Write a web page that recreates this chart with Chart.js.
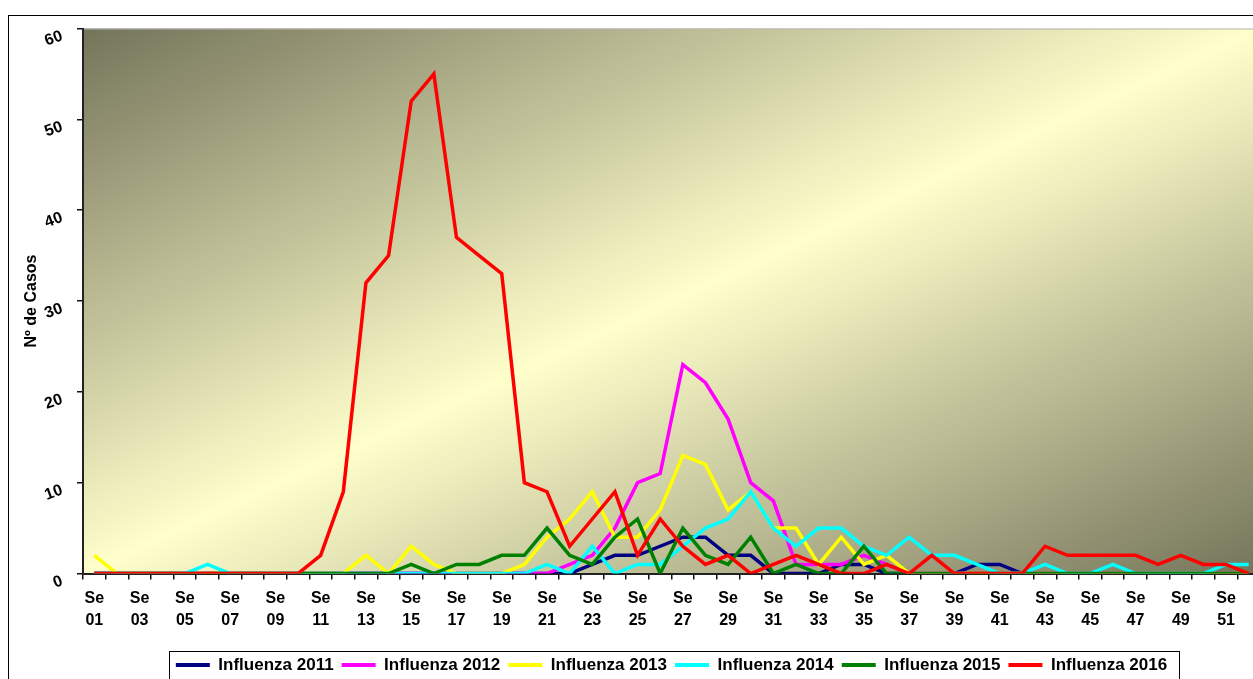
<!doctype html>
<html>
	<head>
		<meta charset="utf-8" />
		<title>Influenza</title>
		<style>
			html	{ height: 100%; overflow: hidden }
			body	{ height: 100%; margin: 0; padding: 0; background: #fff; overflow: hidden }
			canvas	{ display: block; }
		</style>
		<script src="https://cdn.jsdelivr.net/npm/chart.js@4.4.1/dist/chart.umd.min.js"></script>
	</head>
	<body>
		<!-- the plot runs a few pixels past the right edge of the window, as in the original -->
		<canvas id="canvas" width="1260" height="679"></canvas>
		<script>

			var weeks = ['Se 01','Se 02','Se 03','Se 04','Se 05','Se 06','Se 07','Se 08','Se 09','Se 10',
				'Se 11','Se 12','Se 13','Se 14','Se 15','Se 16','Se 17','Se 18','Se 19','Se 20',
				'Se 21','Se 22','Se 23','Se 24','Se 25','Se 26','Se 27','Se 28','Se 29','Se 30',
				'Se 31','Se 32','Se 33','Se 34','Se 35','Se 36','Se 37','Se 38','Se 39','Se 40',
				'Se 41','Se 42','Se 43','Se 44','Se 45','Se 46','Se 47','Se 48','Se 49','Se 50',
				'Se 51','Se 52'];

			var flu2011 = [0,0,0,0,0,0,0,0,0,0, 0,0,0,0,0,0,0,0,0,0, 0,0,1,2,2,3,4,4,2,2, 0,0,0,1,1,0,0,0,0,1, 1,0,0,0,0,0,0,0,0,0, 0,0];
			var flu2012 = [0,0,0,0,0,0,0,0,0,0, 0,0,0,0,0,0,0,0,0,0, 0,1,2,5,10,11,23,21,17,10, 8,1,1,1,2,1,0,0,0,0, 0,0,0,0,0,0,0,0,0,0, 0,0];
			var flu2013 = [2,0,0,0,0,0,0,0,0,0, 0,0,2,0,3,1,0,0,0,1, 4,6,9,4,4,7,13,12,7,9, 5,5,1,4,1,2,0,0,0,0, 0,0,0,0,0,0,0,0,0,0, 0,0];
			var flu2014 = [0,0,0,0,0,1,0,0,0,0, 0,0,0,0,0,0,0,0,0,0, 1,0,3,0,1,1,3,5,6,9, 5,3,5,5,3,2,4,2,2,1, 0,0,1,0,0,1,0,0,0,0, 1,1];
			var flu2015 = [0,0,0,0,0,0,0,0,0,0, 0,0,0,0,1,0,1,1,2,2, 5,2,1,4,6,0,5,2,1,4, 0,1,0,0,3,0,0,0,0,0, 0,0,0,0,0,0,0,0,0,0, 0,0];
			var flu2016 = [0,0,0,0,0,0,0,0,0,0, 2,9,32,35,52,55,37,35,33,10, 9,3,6,9,2,6,3,1,2,0, 1,2,1,0,0,1,0,2,0,0, 0,0,3,2,2,2,2,1,2,1, 1,0];

			var seriesNames = ['Influenza 2011','Influenza 2012','Influenza 2013','Influenza 2014','Influenza 2015','Influenza 2016'];
			var seriesColors = ['#000080','#ff00ff','#ffff00','#00ffff','#008000','#ff0000'];
			var seriesData = [flu2011, flu2012, flu2013, flu2014, flu2015, flu2016];

			var FONT = '"Liberation Sans", Arial, sans-serif';
			Chart.defaults.font.family = FONT;
			Chart.defaults.color = '#000';

			// plot area gradient + outer frame
			var backdrop = {
				id: 'backdrop',
				beforeDraw: function(chart) {
					var ctx = chart.ctx;
					var a = chart.chartArea;
					ctx.save();
					ctx.translate(a.left, a.top);
					ctx.scale(a.right - a.left, a.bottom - a.top);
					var g = ctx.createLinearGradient(0, 0, 1, 1);
					g.addColorStop(0, '#74745a');
					g.addColorStop(0.5, '#ffffcc');
					g.addColorStop(1, '#74745a');
					ctx.fillStyle = g;
					ctx.fillRect(0, 0, 1, 1);
					ctx.restore();

					ctx.save();
					ctx.strokeStyle = '#b4b4b4';
					ctx.lineWidth = 1;
					ctx.beginPath();
					ctx.moveTo(a.left, a.top + 0.5);
					ctx.lineTo(a.right, a.top + 0.5);
					ctx.stroke();
					ctx.strokeStyle = '#000';
					ctx.strokeRect(8.5, 15.5, 1400, 800);
					ctx.restore();
				}
			};

			// slanted value labels on the y axis
			var yLabels = {
				id: 'yLabels',
				afterDraw: function(chart) {
					var ctx = chart.ctx;
					var s = chart.scales.y;
					ctx.save();
					ctx.font = 'bold 16px ' + FONT;
					ctx.fillStyle = '#000';
					ctx.textAlign = 'right';
					ctx.textBaseline = 'middle';
					s.ticks.forEach(function(t) {
						var py = s.getPixelForValue(t.value);
						ctx.save();
						ctx.translate(s.right - 21, py + 7);
						ctx.rotate(-20 * Math.PI / 180);
						ctx.fillText(String(t.value), 0, 0);
						ctx.restore();
					});
					ctx.restore();
				}
			};

			// legend nudge and frame
			var legendFrame = {
				id: 'legendFrame',
				afterLayout: function(chart) {
					chart.legend.top += 4.5;
					chart.legend.bottom += 4.5;
				},
				afterDraw: function(chart) {
					var hb = chart.legend.legendHitBoxes;
					if (!hb || !hb.length) return;
					var first = hb[0], last = hb[hb.length - 1];
					var ctx = chart.ctx;
					var cy = first.top + first.height / 2;
					ctx.save();
					ctx.strokeStyle = '#000';
					ctx.lineWidth = 1;
					ctx.strokeRect(Math.round(first.left - 7) + 0.5, Math.round(cy - 14) + 0.5,
						Math.round(last.left + last.width + 12 - first.left + 7), 60);
					ctx.restore();
				}
			};

			var datasets = seriesNames.map(function(name, i) {
				return {
					label: name,
					data: seriesData[i],
					borderColor: seriesColors[i],
					backgroundColor: seriesColors[i],
					borderWidth: 3.5,
					pointRadius: 0,
					tension: 0,
					fill: false,
					order: seriesNames.length - i
				};
			});

			new Chart(document.getElementById('canvas').getContext('2d'), {
				type: 'line',
				data: { labels: weeks, datasets: datasets },
				plugins: [backdrop, yLabels, legendFrame],
				options: {
					responsive: false,
					animation: false,
					layout: { padding: { left: 22, right: 0, top: 28.5, bottom: 0 } },
					plugins: {
						tooltip: { enabled: false },
						legend: {
							position: 'bottom',
							fullSize: false,
							labels: {
								boxWidth: 34,
								boxHeight: 4,
								padding: 8,
								color: '#000',
								font: { size: 17, weight: 'bold' },
								sort: function(a, b) { return a.datasetIndex - b.datasetIndex; },
								generateLabels: function(chart) {
									return Chart.defaults.plugins.legend.labels.generateLabels(chart).map(function(it) {
										it.fillStyle = it.strokeStyle;
										it.lineWidth = 0;
										return it;
									});
								}
							}
						}
					},
					scales: {
						x: {
							offset: true,
							grid: { display: true, drawOnChartArea: false, drawTicks: true, tickLength: 6, offset: true, color: '#111', lineWidth: 1.5 },
							border: { display: true, color: '#222', width: 2 },
							ticks: {
								autoSkip: false,
								maxRotation: 0,
								minRotation: 0,
								padding: 8,
								color: '#000',
								font: { size: 16, weight: 'bold', lineHeight: 1.375 },
								callback: function(value, index) {
									return index % 2 === 0 ? this.getLabelForValue(value).split(' ') : '';
								}
							},
							afterFit: function(scale) { scale.height = 70.5; }
						},
						y: {
							min: 0,
							max: 60,
							ticks: { stepSize: 10, display: false },
							grid: { display: true, drawOnChartArea: false, drawTicks: true, tickLength: 6, color: '#111', lineWidth: 1.5 },
							border: { display: true, color: '#222', width: 2 },
							title: {
								display: true,
								text: 'Nº de Casos',
								color: '#000',
								padding: 0,
								font: { size: 16, weight: 'bold' }
							},
							afterFit: function(scale) { scale.width = 61; }
						}
					}
				}
			});

		</script>
	</body>
</html>
